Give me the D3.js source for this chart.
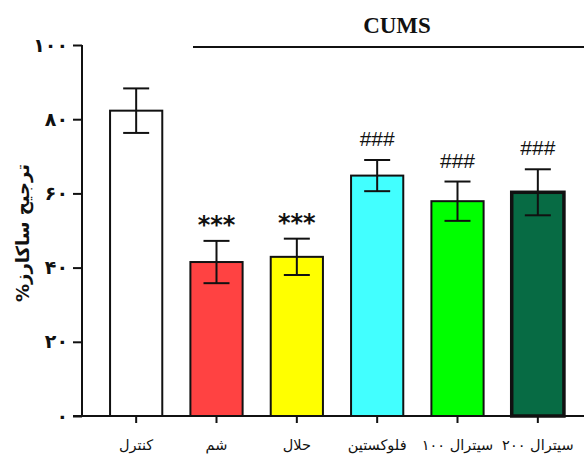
<!DOCTYPE html>
<html><head><meta charset="utf-8">
<script src="https://cdn.jsdelivr.net/npm/d3@7"></script>
<style>html,body{margin:0;padding:0;background:#fff;}</style>
</head><body>
<svg id="c" width="584" height="461"></svg>
<script>
const categories = ["کنترل", "شم", "حلال", "فلوکستین", "سیترال ۱۰۰", "سیترال ۲۰۰"];
const means = [82.3, 41.5, 42.9, 64.8, 57.9, 60.3];
const sems = [6.0, 5.7, 4.9, 4.2, 5.3, 6.2];
const colors = ["#ffffff", "#ff4242", "#ffff00", "#42ffff", "#00ff00", "#076b44"];
const marks = ["", "***", "***", "###", "###", "###"];
const yTicks = [0, 20, 40, 60, 80, 100];
const yTickLabels = ["۰", "۲۰", "۴۰", "۶۰", "۸۰", "۱۰۰"];
const yTitle = "ترجیح ساکارز%";
const groupTitle = "CUMS";

const svg = d3.select("#c");
const y = d3.scaleLinear().domain([0, 100]).range([416, 45]);
const x = d3.scaleBand().domain(categories).range([96, 578]).paddingInner(0.35).paddingOuter(0.175);
const persian = "'DejaVu Sans', sans-serif";

const data = categories.map((c, i) => ({c, m: means[i], s: sems[i], col: colors[i], mk: marks[i], i}));
svg.selectAll("rect.bar").data(data).enter().append("rect")
  .attr("x", d => x(d.c)).attr("width", x.bandwidth())
  .attr("y", d => y(d.m)).attr("height", d => y(0) - y(d.m))
  .attr("fill", d => d.col).attr("stroke", "#111")
  .attr("stroke-width", d => d.i === 5 ? 3.5 : 2);

const eb = svg.selectAll("g.eb").data(data).enter().append("g")
  .attr("stroke", "#111").attr("stroke-width", 2);
const cx = d => x(d.c) + x.bandwidth()/2;
eb.append("line").attr("x1", cx).attr("x2", cx)
  .attr("y1", d => y(d.m - d.s)).attr("y2", d => y(d.m + d.s));
eb.append("line").attr("x1", d => cx(d) - 13).attr("x2", d => cx(d) + 13)
  .attr("y1", d => y(d.m + d.s)).attr("y2", d => y(d.m + d.s));
eb.append("line").attr("x1", d => cx(d) - 13).attr("x2", d => cx(d) + 13)
  .attr("y1", d => y(d.m - d.s)).attr("y2", d => y(d.m - d.s));

svg.selectAll("text.mk").data(data.filter(d => d.mk)).enter().append("text")
  .attr("x", cx)
  .attr("y", d => y(d.m + d.s) - (d.mk === "***" ? 8 : 14))
  .attr("text-anchor", "middle")
  .attr("font-family", d => d.mk === "***" ? "'DejaVu Sans', sans-serif" : "'Liberation Sans', Arial, sans-serif")
  .attr("font-weight", d => d.mk === "***" ? "bold" : "normal")
  .attr("font-size", d => d.mk === "***" ? 24 : 21)
  .attr("fill", "#111")
  .text(d => d.mk);

const yAxis = d3.axisLeft(y).tickValues(yTicks).tickSize(9).tickFormat((d, i) => yTickLabels[i]);
const gy = svg.append("g").attr("transform", "translate(82,0)").call(yAxis);
gy.select(".domain").attr("stroke", "#111").attr("stroke-width", 2).attr("d", "M0,45V416");
gy.selectAll(".tick line").attr("stroke", "#111").attr("stroke-width", 2);
gy.selectAll(".tick text").attr("font-family", persian).attr("font-size", 19).attr("font-weight", "bold")
  .attr("fill", "#111").attr("x", -14).attr("letter-spacing", 3);

const xAxis = d3.axisBottom(x).tickSize(7).tickSizeOuter(0);
const gx = svg.append("g").attr("transform", "translate(0,416)").call(xAxis);
gx.select(".domain").attr("stroke", "#111").attr("stroke-width", 2).attr("d", "M73,0H584");
gx.selectAll(".tick line").attr("stroke", "#111").attr("stroke-width", 2);
gx.selectAll(".tick text").attr("font-family", persian).attr("font-size", 14.5).attr("fill", "#111")
  .attr("y", 24);

svg.append("text").attr("transform", "translate(22,233) rotate(-90)")
  .attr("text-anchor", "middle").attr("dominant-baseline", "central")
  .attr("direction", "rtl")
  .attr("font-family", persian).attr("font-weight", "bold").attr("font-size", 18).attr("fill", "#111")
  .text(yTitle);

svg.append("text").attr("x", 397).attr("y", 33).attr("text-anchor", "middle")
  .attr("font-family", "'Liberation Serif', 'Times New Roman', serif").attr("font-weight", "bold")
  .attr("font-size", 23).attr("fill", "#111").text(groupTitle);
svg.append("line").attr("x1", 193).attr("x2", 584).attr("y1", 47).attr("y2", 47)
  .attr("stroke", "#111").attr("stroke-width", 2);
</script>
</body></html>
